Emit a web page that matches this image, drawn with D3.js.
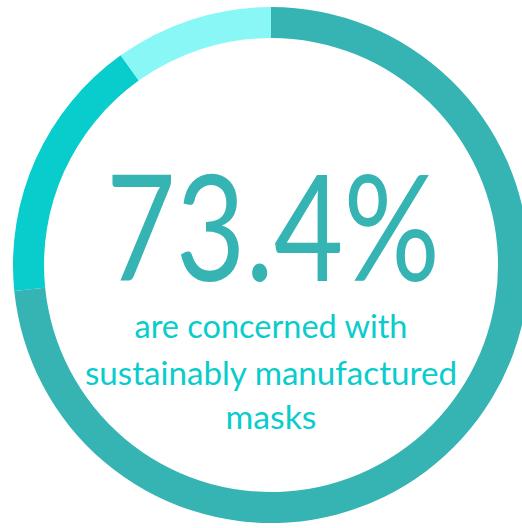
<!DOCTYPE html>
<html>
<head>
<meta charset="utf-8">
<script src="https://cdn.jsdelivr.net/npm/d3@7"></script>
<style>
  html, body { margin: 0; padding: 0; background: #fff; }
  svg { display: block; }
</style>
</head>
<body>
<svg id="chart" width="522" height="528"></svg>
<script>
// Share of respondents, in percent, by segment (clockwise from 12 o'clock)
const segments = ["Concerned", "Neutral", "Not concerned"];
const shares = [73.4, 16.7, 9.9];
const colors = ["#36b3b3", "#09cccc", "#8af7f7"];

const headline = "73.4%";
const caption = ["are concerned with", "sustainably manufactured", "masks"];

const svg = d3.select("#chart");
const cx = 271, cy = 265;
const outerR = 258, innerR = 227;

const pie = d3.pie().sort(null).value(d => d)
  .startAngle(0).endAngle(2 * Math.PI);
const arc = d3.arc().innerRadius(innerR).outerRadius(outerR);
const color = d3.scaleOrdinal().domain(segments).range(colors);

const g = svg.append("g").attr("transform", `translate(${cx},${cy})`);
g.selectAll("path")
  .data(pie(shares))
  .join("path")
  .attr("d", arc)
  .attr("fill", (d, i) => color(segments[i]));

const font = "Lato, 'Open Sans', sans-serif";

// Headline figure
g.append("text")
  .attr("x", 2)
  .attr("y", 281 - cy)
  .attr("text-anchor", "middle")
  .attr("font-family", font)
  .attr("font-weight", 400)
  .attr("font-size", 148)
  .attr("fill", "#36b3b3")
  .attr("textLength", 334)
  .attr("lengthAdjust", "spacingAndGlyphs")
  .text(headline);

// Caption, one line per entry
const captionBase = [338, 385, 429];
const captionWidth = [273, 372, 91];
g.selectAll("text.caption")
  .data(caption)
  .join("text")
  .attr("class", "caption")
  .attr("x", 0)
  .attr("y", (d, i) => captionBase[i] - cy)
  .attr("text-anchor", "middle")
  .attr("font-family", font)
  .attr("font-weight", 400)
  .attr("font-size", 33)
  .attr("fill", "#09cccc")
  .attr("textLength", (d, i) => captionWidth[i])
  .attr("lengthAdjust", "spacingAndGlyphs")
  .text(d => d);
</script>
</body>
</html>
